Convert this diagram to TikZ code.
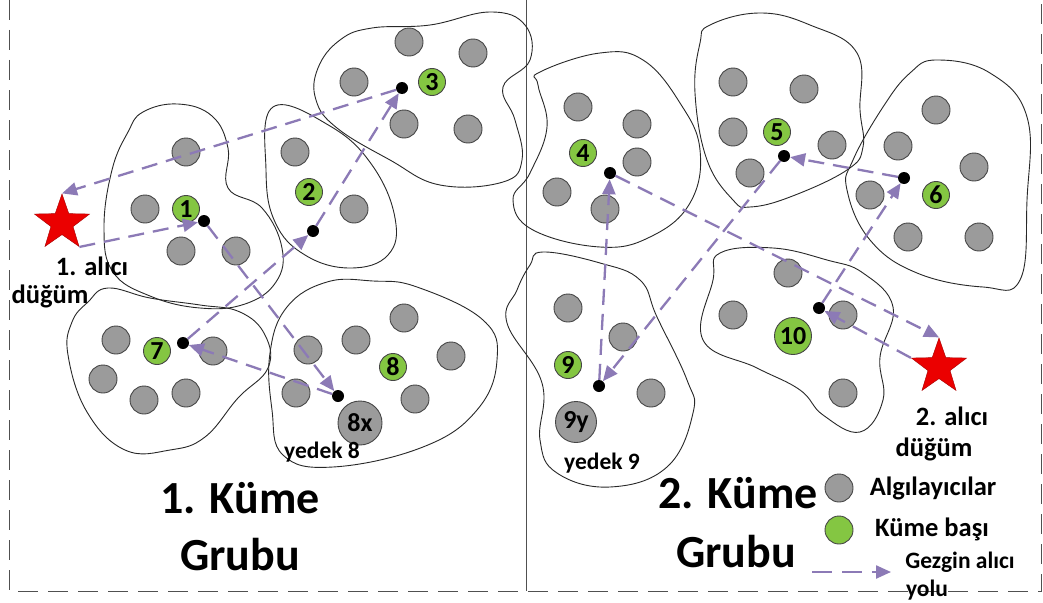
\documentclass[tikz,border=0pt]{standalone}
\usepackage{fontspec}
\setmainfont{Carlito}
\usetikzlibrary{shapes.geometric,arrows.meta}
\definecolor{pathc}{RGB}{140,122,182}
\definecolor{sensor}{RGB}{155,155,155}
\definecolor{sensorb}{RGB}{70,70,70}
\definecolor{headc}{RGB}{132,198,66}
\definecolor{framec}{RGB}{80,80,80}
\definecolor{blobc}{RGB}{40,40,40}
\definecolor{starc}{RGB}{235,0,0}
\tikzset{
  blob/.style={draw=blobc, line width=0.9pt},
  sens/.style={circle, minimum size=28pt, inner sep=0pt, fill=sensor, draw=sensorb, line width=0.9pt},
  bigsens/.style={sens, minimum size=#1, font=\bfseries\fontsize{26}{26}\selectfont},
  head/.style={circle, minimum size=27pt, inner sep=0pt, fill=headc, draw=sensorb, line width=0.9pt, font=\bfseries\fontsize{26}{26}\selectfont},
  dotn/.style={circle, minimum size=12pt, inner sep=0pt, fill=black},
  sink/.style={star, star points=5, star point ratio=2.5, minimum size=58pt, inner sep=0pt, fill=starc, draw=starc!70!black},
  route/.style={draw=pathc, line width=2.3pt, dash pattern=on 16pt off 9pt, -{Triangle[length=15pt,width=13pt]}},
  lbl/.style={font=\bfseries\fontsize{26.5}{26.5}\selectfont, inner sep=0pt},
  small/.style={font=\bfseries\fontsize{23.5}{23.5}\selectfont, inner sep=0pt},
  title/.style={font=\bfseries\fontsize{46}{46}\selectfont, inner sep=0pt, anchor=base},
  framel/.style={draw=framec, line width=1pt, dash pattern=on 20pt off 10pt}
}
\begin{document}
\begin{tikzpicture}[x=1pt,y=-1pt]
\useasboundingbox (0,0) rectangle (1043,602);
\fill[white] (0,0) rectangle (1043,602);
% frame
\draw[framel] (9,0) -- (9,591) -- (1041,591) -- (1041,0);
\draw[framec, line width=1pt] (526,0) -- (526,591);
% cluster outlines
\draw[blob] plot[smooth cycle, tension=0.7] coordinates {(143,112) (178,104) (212,116) (228,148) (228,188) (262,208) (282,248) (276,282) (245,304) (200,308) (150,296) (113,272) (104,228) (112,170) (128,132)};
\draw[blob] plot[smooth cycle, tension=0.7] coordinates {(273,107) (330,126) (372,165) (395,218) (388,255) (350,268) (305,255) (275,222) (266,170)};
\draw[blob] plot[smooth cycle, tension=0.7] coordinates {(318,68) (340,40) (372,28) (430,25) (490,12) (525,25) (530,60) (503,87) (515,120) (522,160) (503,182) (440,185) (390,160) (337,128) (316,100)};
\draw[blob] plot[smooth cycle, tension=0.7] coordinates {(88,302) (108,288) (150,298) (200,305) (240,312) (265,335) (268,368) (238,398) (205,437) (170,450) (125,450) (87,412) (68,355) (72,322)};
\draw[blob] plot[smooth cycle, tension=0.7] coordinates {(327,282) (373,281) (417,287) (483,320) (497,360) (477,410) (423,447) (333,467) (283,455) (272,410) (270,353) (287,307)};
\draw[blob] plot[smooth cycle, tension=0.7] coordinates {(540,72) (600,53) (643,60) (680,103) (700,150) (690,203) (650,237) (600,247) (533,230) (513,200) (530,173) (547,127) (538,85)};
\draw[blob] plot[smooth cycle, tension=0.7] coordinates {(710,25) (760,13) (810,25) (857,53) (860,110) (863,147) (847,170) (790,197) (750,207) (733,200) (707,160) (695,93) (700,43)};
\draw[blob] plot[smooth cycle, tension=0.7] coordinates {(937,60) (990,73) (1027,117) (1027,200) (1020,280) (983,287) (917,273) (870,240) (847,190) (853,160) (883,107) (910,73)};
\draw[blob] plot[smooth cycle, tension=0.7] coordinates {(543,252) (600,263) (640,280) (657,317) (687,380) (693,413) (667,467) (610,487) (557,473) (540,440) (542,383) (507,323) (517,290) (530,265)};
\draw[blob] plot[smooth cycle, tension=0.7] coordinates {(720,253) (773,248) (827,260) (863,273) (893,307) (880,357) (883,400) (860,432) (823,415) (800,390) (757,368) (703,340) (713,280)};
% cluster 1
\node[sens] (a11) at (186,152) {};
\node[sens] (a12) at (145,209) {};
\node[sens] (a13) at (181,251) {};
\node[sens] (a14) at (236,251) {};
\node[head] (h1) at (186,209) {1};
% cluster 2
\node[sens] (a21) at (295,152) {};
\node[sens] (a22) at (354,209) {};
\node[head] (h2) at (309,192) {2};
% cluster 3
\node[sens] (a31) at (409,42) {};
\node[sens] (a32) at (473,53) {};
\node[sens] (a33) at (354,82) {};
\node[sens] (a34) at (404,124) {};
\node[sens] (a35) at (468,129) {};
\node[head] (h3) at (432,82) {3};
% cluster 7
\node[sens] (a71) at (116,340) {};
\node[sens] (a72) at (103,379) {};
\node[sens] (a73) at (144,400) {};
\node[sens] (a74) at (186,393) {};
\node[sens] (a75) at (213,351) {};
\node[head] (h7) at (157,351) {7};
% cluster 8
\node[sens] (a81) at (308,350) {};
\node[sens] (a82) at (356,340) {};
\node[sens] (a83) at (404,318) {};
\node[sens] (a84) at (451,356) {};
\node[sens] (a85) at (296,393) {};
\node[sens] (a86) at (415,399) {};
\node[head] (h8) at (393,367) {8};
\node[bigsens=44pt] (b8) at (360,423) {8x};
\node[small] (y8) at (322,452) {yedek 8};
% cluster 4
\node[sens] (a41) at (578,107) {};
\node[sens] (a42) at (637,124) {};
\node[sens] (a43) at (637,162) {};
\node[sens] (a44) at (557,192) {};
\node[sens] (a45) at (605,209) {};
\node[head] (h4) at (583,153) {4};
% cluster 5
\node[sens] (a51) at (733,82) {};
\node[sens] (a52) at (733,132) {};
\node[sens] (a53) at (750,173) {};
\node[sens] (a54) at (804,89) {};
\node[sens] (a55) at (832,145) {};
\node[head] (h5) at (777,132) {5};
% cluster 6
\node[sens] (a61) at (936,110) {};
\node[sens] (a62) at (898,146) {};
\node[sens] (a63) at (974,167) {};
\node[sens] (a64) at (870,195) {};
\node[sens] (a65) at (908,237) {};
\node[sens] (a66) at (979,237) {};
\node[head] (h6) at (936,195) {6};
% cluster 9
\node[sens] (a91) at (568,308) {};
\node[sens] (a92) at (623,337) {};
\node[sens] (a93) at (651,393) {};
\node[head] (h9) at (568,365) {9};
\node[bigsens=41pt] (b9) at (576,422) {9y};
\node[small] (y9) at (602,463) {yedek 9};
% cluster 10
\node[sens] (a101) at (788,273) {};
\node[sens] (a102) at (733,315) {};
\node[sens] (a103) at (843,315) {};
\node[sens] (a104) at (843,393) {};
\node[head, minimum size=37pt] (h10) at (793,336) {10};
% sinks
\node[sink] (s1) at (62,223) {};
\node[sink] (s2) at (939,367) {};
% route points
\node[dotn] (d1) at (204,221) {};
\node[dotn] (d2) at (313,231) {};
\node[dotn] (d3) at (402,88) {};
\node[dotn] (d7) at (183,343) {};
\node[dotn] (d8) at (338,396) {};
\node[dotn] (d4) at (610,173) {};
\node[dotn] (d5) at (784,156) {};
\node[dotn] (d6) at (904,178) {};
\node[dotn] (d9) at (599,386) {};
\node[dotn] (d10) at (819,308) {};
% routes group 1
\draw[route] (s1.outer point 4) -- (d1);
\draw[route] (d1) -- (d8);
\draw[route] (d8) -- (d7);
\draw[route] (d7) -- (d2);
\draw[route] (d2) -- (d3);
\draw[route] (d3) -- (s1.outer point 1);
% routes group 2
\draw[route] (s2.outer point 2) -- (d10);
\draw[route] (d10) -- (d6);
\draw[route] (d6) -- (d5);
\draw[route] (d5) -- (d9);
\draw[route] (d9) -- (d4);
\draw[route] (d4) -- (s2.outer point 1);
% labels
\node[lbl] (l1a) at (92,266) {1. alıcı};
\node[lbl] (l1b) at (50,296) {düğüm};
\node[lbl] (l2a) at (952,416) {2. alıcı};
\node[lbl] (l2b) at (934,449) {düğüm};
\node[title] (t1a) at (240,513) {1. Küme};
\node[title] (t1b) at (240,570) {Grubu};
\node[title] (t2a) at (738,508) {2. Küme};
\node[title] (t2b) at (736,567) {Grubu};
% legend
\node[sens] (lg1) at (839,488) {};
\node[head, minimum size=28pt] (lg2) at (839,530) {};
\node[lbl] (lt1) at (933,488) {Algılayıcılar};
\node[lbl] (lt2) at (932,529) {Küme başı};
\coordinate (la1) at (812,572);
\coordinate (la2) at (891,572);
\draw[route, dash pattern=on 20pt off 10pt] (la1) -- (la2);
\node[small] (lt3) at (960,562) {Gezgin alıcı};
\node[small] (lt4) at (927,590) {yolu};
\end{tikzpicture}
\end{document}
